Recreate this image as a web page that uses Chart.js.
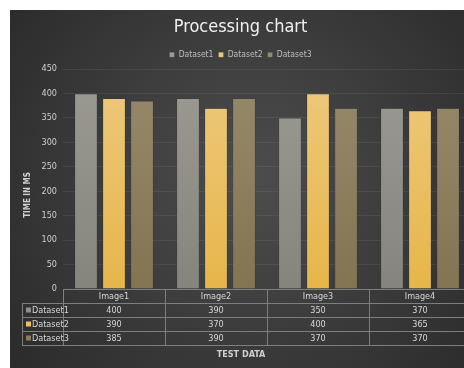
<!DOCTYPE html>
<html><head><meta charset="utf-8">
<script src="https://cdn.jsdelivr.net/npm/chart.js@4"></script>
<style>
html,body{margin:0;padding:0;background:#fff;overflow:hidden;width:464px;height:368px;}
#wrap{position:absolute;left:10px;top:10px;width:454px;height:358px;overflow:hidden;}
canvas{position:absolute;left:0;top:0;}
</style></head><body>
<div id="wrap"><canvas id="c" width="462" height="358"></canvas></div>
<script>
const categories = ['Image1','Image2','Image3','Image4'];
const seriesNames = ['Dataset1','Dataset2','Dataset3'];
const dataset1 = [400, 390, 350, 370];
const dataset2 = [390, 370, 400, 365];
const dataset3 = [385, 390, 370, 370];
const yTicks = [0,50,100,150,200,250,300,350,400,450];

const FONT = "'DejaVu Sans Condensed','Liberation Sans Narrow','Liberation Sans',sans-serif";
const colorsTop = ['#9b9b94','#eec97e','#978a6c'];
const colorsBot = ['#85857e','#e6b64a','#837452'];
const solid = ['#8f8f88','#e9bf5f','#8c7d5e'];

function grad(i){
  return function(ctx){
    const ch = ctx.chart, a = ch.chartArea;
    if(!a) return solid[i];
    const g = ch.ctx.createLinearGradient(0,a.top,0,a.bottom);
    g.addColorStop(0,colorsTop[i]); g.addColorStop(1,colorsBot[i]);
    return g;
  };
}

const bgPlugin = {
  id:'bg',
  beforeDraw(chart){
    const c = chart.ctx, w = chart.width, h = chart.height;
    c.save();
    const g = c.createRadialGradient(240,170,10,240,170,300);
    g.addColorStop(0,'#4c4c4c');
    g.addColorStop(1,'#2b2b2b');
    c.fillStyle = g; c.fillRect(0,0,w,h);
    c.restore();
  }
};

const tablePlugin = {
  id:'table',
  afterDraw(chart){
    const c = chart.ctx, a = chart.chartArea, x = chart.scales.x;
    const rowH = 14, top = a.bottom, labelLeft = 12;
    const n = categories.length;
    const half = (x.getPixelForValue(1)-x.getPixelForValue(0))/2;
    const left = x.getPixelForValue(0)-half;
    const right = x.getPixelForValue(n-1)+half;
    c.save();
    c.strokeStyle = '#7e7e7e'; c.lineWidth = 1;
    c.beginPath();
    c.moveTo(left, top+0.5); c.lineTo(right, top+0.5);
    for(let r=1;r<=4;r++){ const y = Math.round(top+r*rowH)+0.5; c.moveTo(labelLeft,y); c.lineTo(right,y); }
    for(let i=0;i<=n;i++){ const xx = Math.round(left+i*2*half)+0.5; c.moveTo(xx,top); c.lineTo(xx,top+4*rowH); }
    c.moveTo(labelLeft+0.5, top+rowH); c.lineTo(labelLeft+0.5, top+4*rowH);
    c.stroke();
    c.font = '9px '+FONT; c.fillStyle = '#d6d6d6';
    c.textBaseline = 'middle'; c.textAlign = 'center';
    const all = [dataset1,dataset2,dataset3];
    categories.forEach((lab,i)=>{ c.fillText(lab, x.getPixelForValue(i), top+rowH/2+0.5); });
    all.forEach((ds,r)=>{
      ds.forEach((v,i)=>{ c.fillText(String(v), x.getPixelForValue(i), top+(r+1.5)*rowH+0.5); });
    });
    c.textAlign = 'left';
    seriesNames.forEach((nm,r)=>{
      const cy = top+(r+1.5)*rowH;
      c.fillStyle = solid[r]; c.fillRect(labelLeft+4, cy-2.5, 5, 5);
      c.fillStyle = '#d6d6d6'; c.fillText(nm, labelLeft+10, cy+0.5);
    });
    c.font = 'bold 9px '+FONT; c.textAlign = 'center'; c.fillStyle = '#d0d0d0';
    c.fillText('TEST DATA', 231, top+66);
    // y-axis title
    c.translate(18, 185);
    c.rotate(-Math.PI/2);
    c.font = 'bold 8px '+FONT;
    c.fillText('TIME IN MS', 0, 0);
    c.restore();
  }
};

new Chart(document.getElementById('c'), {
  type:'bar',
  data:{
    labels: categories,
    datasets: [dataset1,dataset2,dataset3].map((d,i)=>({
      label: seriesNames[i], data: d,
      backgroundColor: grad(i),
      borderColor: 'rgba(40,40,40,0.35)', borderWidth: 0.6,
      categoryPercentage: 0.824, barPercentage: 0.82
    }))
  },
  options:{
    responsive:false, animation:false,
    layout:{padding:{left:0,right:1,top:0,bottom:79}},
    plugins:{
      title:{display:true,text:'Processing chart',color:'#f0f0f0',
        font:{family:FONT,size:18,weight:'normal'},padding:{top:7,bottom:7}},
      legend:{display:true,labels:{color:'#bdbdbd',font:{family:FONT,size:8.5},
        boxWidth:5,boxHeight:5,padding:5},
        onClick:null},
      tooltip:{enabled:false}
    },
    scales:{
      x:{display:false},
      y:{min:0,max:450,
        afterFit(s){ s.width = 53; },
        afterBuildTicks(s){ s.ticks = yTicks.map(v=>({value:v})); },
        grid:{color:'rgba(255,255,255,0.07)',drawTicks:false},
        border:{display:false},
        ticks:{color:'#cfcfcf',font:{family:FONT,size:9},padding:6},
        title:{display:false}
      }
    }
  },
  plugins:[bgPlugin, tablePlugin]
});
</script></body></html>
